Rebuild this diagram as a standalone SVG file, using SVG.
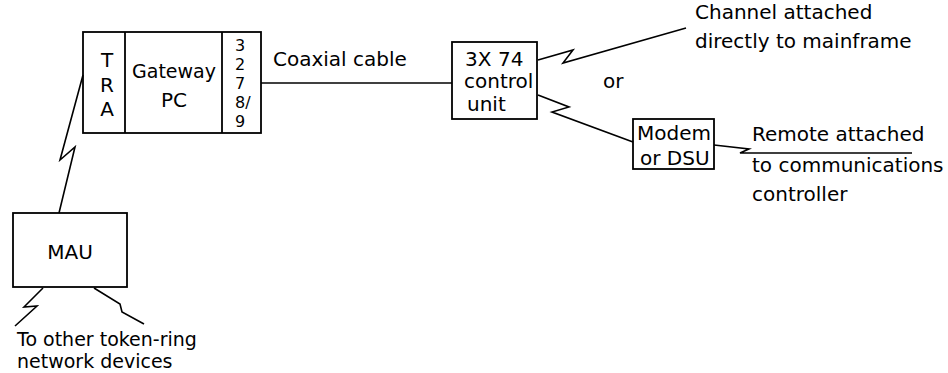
<svg xmlns="http://www.w3.org/2000/svg" width="948" height="373" viewBox="0 0 948 373">
<style>
.box{fill:none;stroke:#000;stroke-width:1.8}
.ln{fill:none;stroke:#000;stroke-width:1.6;stroke-linejoin:miter}
text{font-family:"DejaVu Sans",sans-serif;font-size:20px;fill:#000}
.c{text-anchor:middle}
.d{font-size:19px}
.n{font-size:16px}
</style>
<rect width="948" height="373" fill="#fff"/>
<g id="gateway">
<rect class="box" x="83" y="32" width="178" height="101"/>
<line class="box" x1="125" y1="32" x2="125" y2="133"/>
<line class="box" x1="222" y1="32" x2="222" y2="133"/>
<text class="c"><tspan x="107" y="67">T</tspan><tspan x="107" y="92">R</tspan><tspan x="107" y="116">A</tspan></text>
<text class="c d" x="174" y="78">Gateway</text>
<text class="c" x="174" y="107">PC</text>
<text class="n" x="235" y="51">3</text>
<text class="n" x="235" y="70">2</text>
<text class="n" x="235" y="89">7</text>
<text class="n" x="235" y="108">8/</text>
<text class="n" x="235" y="127">9</text>
</g>
<g id="control-unit">
<rect class="box" x="452" y="42" width="85" height="77"/>
<text y="66"><tspan x="465">3X</tspan><tspan x="498">74</tspan></text>
<text x="464" y="88">control</text>
<text x="467" y="111">unit</text>
</g>
<g id="modem">
<rect class="box" x="633" y="119" width="81" height="50"/>
<text x="637" y="140">Modem</text>
<text x="640" y="165">or DSU</text>
</g>
<g id="mau">
<rect class="box" x="13" y="213" width="114" height="74"/>
<text class="c" x="70" y="259">MAU</text>
</g>
<g id="labels">
<text x="273" y="66">Coaxial cable</text>
<text x="695" y="19">Channel attached</text>
<text x="695" y="48">directly to mainframe</text>
<text x="603" y="88">or</text>
<text x="752" y="141">Remote attached</text>
<text x="752" y="172">to communications</text>
<text x="752" y="201">controller</text>
<text class="d" x="17" y="346">To other token-ring</text>
<text class="d" x="17" y="368">network devices</text>
</g>
<g id="connectors">
<line class="ln" x1="261" y1="83" x2="452" y2="83"/>
<polyline class="ln" points="538,60 573,50 563,63 686,28"/>
<polyline class="ln" points="538,95 569,107 552,112 633,142"/>
<polyline class="ln" points="714,145 749,149 740,153 912,153"/>
<polyline class="ln" points="83,75 60,160 75,147 59,213"/>
<polyline class="ln" points="43,288 24,307 37,306 15,326"/>
<polyline class="ln" points="94,288 120,304 122,312 144,324"/>
</g>
</svg>
